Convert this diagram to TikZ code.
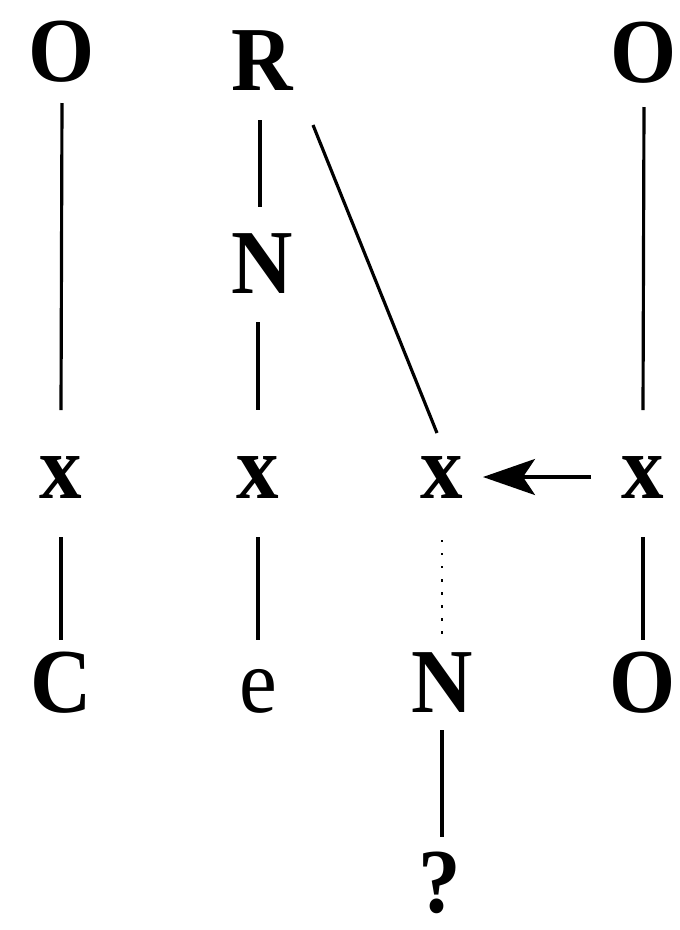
\documentclass[tikz,border=0pt]{standalone}
\usepackage{fontspec}
\setmainfont{Liberation Serif}[FakeStretch=0.93]
\usetikzlibrary{calc,arrows.meta}
\begin{document}
\begin{tikzpicture}[x=0.01cm,y=-0.01cm,
  lab/.style={inner sep=0pt,anchor=base,font=\fontsize{26}{30}\selectfont\bfseries},
  labr/.style={inner sep=0pt,anchor=base,font=\fontsize{26}{30}\selectfont},
  conn/.style={line width=0.9pt},
  dotconn/.style={line width=0.7pt,dash pattern=on 0.7pt off 3pt},
  arr/.style={line width=0.9pt,-{Stealth[length=5.2mm,width=3.6mm,inset=1.2mm]}}]
\useasboundingbox (0,0) rectangle (680,930);
% top row
\node[lab] (O1) at (62,81) {O};
\node[lab] (R) at (262,90) {R};
\node[lab] (O3) at (644,82) {O};
\node[lab] (N2) at (262,293) {N};
% x row
\node[lab] (x1) at (61,498) {x};
\node[lab] (x2) at (258,498) {x};
\node[lab] (x3) at (442,498) {x};
\node[lab] (x4) at (643,498) {x};
% bottom row
\node[lab] (C) at (61,712) {C};
\node[labr] (e) at (258,712) {e};
\node[lab] (N3) at (442,712) {N};
\node[lab] (O4) at (643,712) {O};
\node[lab] (q) at (440,912) {?};
% connectors
\draw[conn] ($(O1.base)+(0,22)$) -- ($(x1.base)+(0,-88)$);
\draw[conn] ($(R.base)+(-2,30)$) -- ($(N2.base)+(-2,-86)$);
\draw[conn] ($(N2.base)+(-4,29)$) -- ($(x2.base)+(0,-88)$);
\draw[conn] ($(R.base)+(51,35)$) -- ($(x3.base)+(-5,-65)$);
\draw[conn] ($(O3.base)+(0,25)$) -- ($(x4.base)+(0,-88)$);
\draw[conn] ($(x1.base)+(0,39)$) -- ($(C.base)+(0,-72)$);
\draw[conn] ($(x2.base)+(0,39)$) -- ($(e.base)+(0,-72)$);
\draw[dotconn] ($(x3.base)+(0,42)$) -- ($(N3.base)+(0,-78)$);
\draw[conn] ($(x4.base)+(0,39)$) -- ($(O4.base)+(0,-72)$);
\draw[conn] ($(N3.base)+(0,18)$) -- ($(q.base)+(2,-75)$);
\draw[arr] ($(x4.base)+(-52,-21)$) -- ($(x3.base)+(41,-21)$);
\end{tikzpicture}
\end{document}
